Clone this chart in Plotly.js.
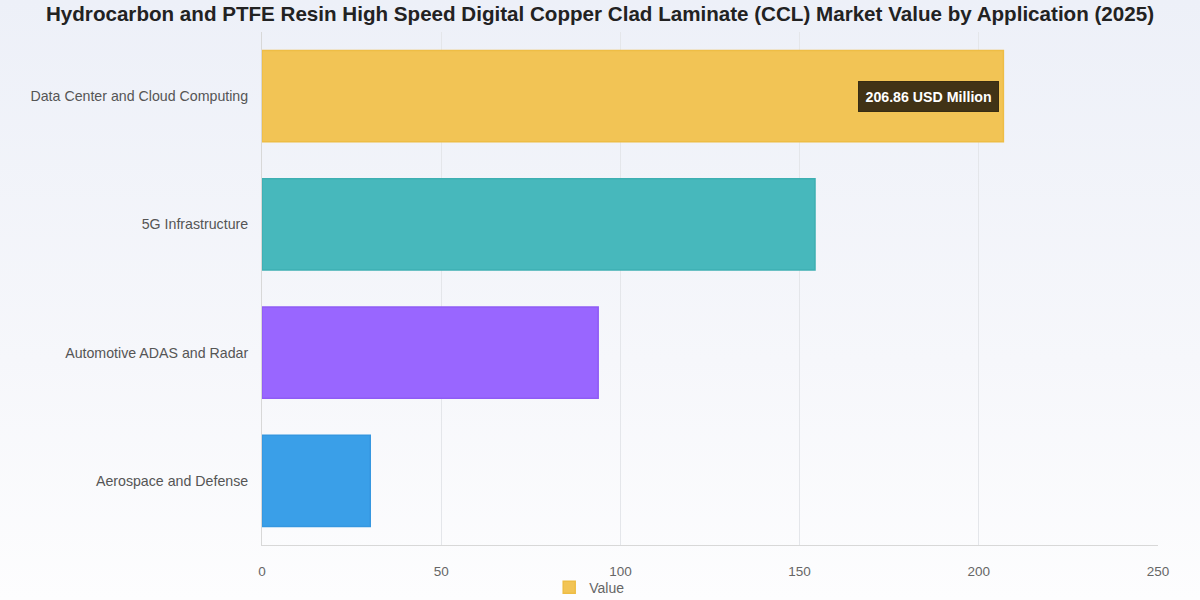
<!DOCTYPE html>
<html>
<head>
<meta charset="utf-8">
<script src="https://cdn.plot.ly/plotly-3.0.1.min.js"></script>
<style>
html,body{margin:0;padding:0;width:1200px;height:600px;overflow:hidden;
background:linear-gradient(to bottom,#edf0f8 0%,#f6f7fb 60%,#fdfdfe 100%);}
#chart{width:1200px;height:600px;}
</style>
</head>
<body>
<div id="chart"></div>
<script>
const categories = ["Data Center and Cloud Computing","5G Infrastructure","Automotive ADAS and Radar","Aerospace and Defense"];
const values = [206.86, 154.3, 93.8, 30.2];
const barColors = ["#f2c455","#47b8bc","#9966ff","#3a9fe8"];
const borderColors = ["#eebd45","#3eafb2","#8f5cf5","#3597e0"];
const xTicks = [0,50,100,150,200,250];
const tooltipText = "206.86 USD Million";

const trace = {
  type: "bar",
  orientation: "h",
  y: categories,
  x: values,
  name: "Value",
  width: 0.71,
  marker: {color: barColors, line: {color: borderColors, width: 1.5}},
  hoverinfo: "none"
};

const layout = {
  width: 1200, height: 600,
  paper_bgcolor: "rgba(0,0,0,0)",
  plot_bgcolor: "rgba(0,0,0,0)",
  font: {family: "Liberation Sans, Arial, sans-serif", color: "#666"},
  margin: {l: 262, r: 42, t: 32, b: 55, autoexpand: false},
  title: {
    text: "Hydrocarbon and PTFE Resin High Speed Digital Copper Clad Laminate (CCL) Market Value by Application (2025)",
    font: {size: 20.6, color: "#222", family: "Liberation Sans, Arial, sans-serif", weight: "bold"},
    x: 0.5, xanchor: "center", yref: "container", y: 0.977, yanchor: "middle"
  },
  xaxis: {
    range: [0, 250],
    tickvals: xTicks,
    ticktext: xTicks.map(String),
    showgrid: true, gridcolor: "#e4e6ea", gridwidth: 1,
    zeroline: false,
    showline: true, linecolor: "#d8d8d8", linewidth: 1,
    ticks: "", ticklabelstandoff: 14,
    tickfont: {size: 13.5, color: "#666"},
    fixedrange: true
  },
  yaxis: {
    autorange: "reversed",
    showgrid: false,
    zeroline: false,
    showline: true, linecolor: "#d8d8d8", linewidth: 1,
    ticks: "", ticklabelstandoff: 10,
    tickfont: {size: 14.2, color: "#555"},
    fixedrange: true
  },
  showlegend: true,
  legend: {
    orientation: "h", xref: "container", x: 0.491, xanchor: "center",
    y: -0.083, yanchor: "middle",
    font: {size: 14, color: "#666"},
    bgcolor: "rgba(0,0,0,0)"
  },
  annotations: [{
    x: values[0], y: categories[0], xref: "x", yref: "y",
    text: "<b>" + tooltipText + "</b>",
    showarrow: false,
    xanchor: "right", yanchor: "middle",
    xshift: -4,
    bgcolor: "rgba(45,35,15,0.9)",
    bordercolor: "rgba(45,35,15,0.9)",
    borderpad: 6.5,
    font: {size: 14.2, color: "#ffffff", family: "Liberation Sans, Arial, sans-serif"}
  }]
};

Plotly.newPlot("chart", [trace], layout, {displayModeBar: false, staticPlot: true});
</script>
</body>
</html>
